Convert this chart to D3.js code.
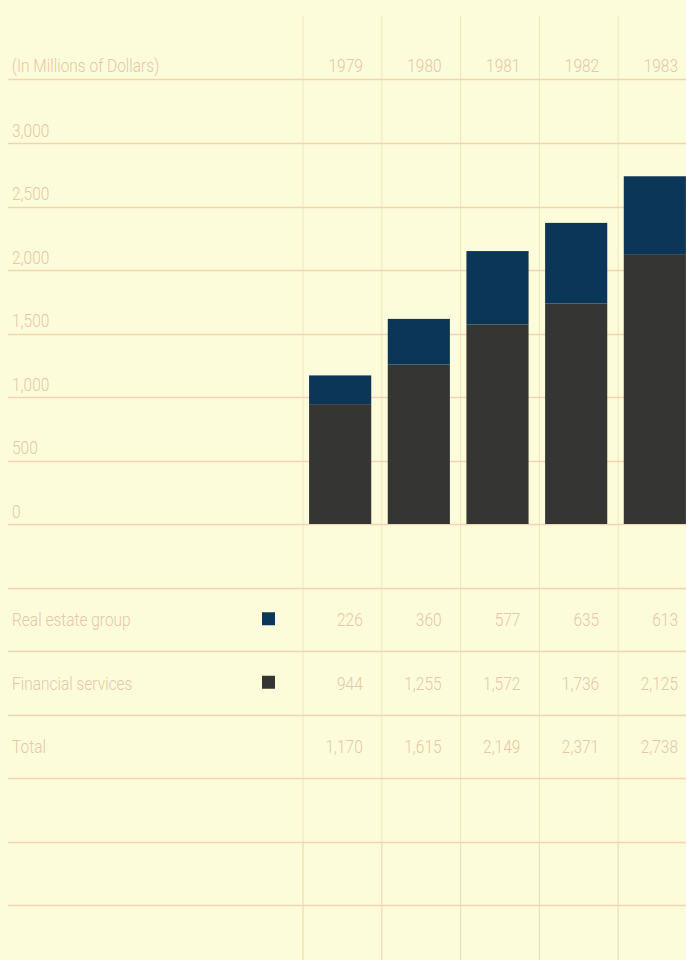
<!DOCTYPE html>
<html>
<head>
<meta charset="utf-8">
<script src="https://cdn.jsdelivr.net/npm/d3@7"></script>
<style>
  html, body { margin: 0; padding: 0; background: #fdfcda; }
  svg { display: block; }
  text { font-family: "Roboto", "Liberation Sans", sans-serif; font-weight: 300; }
</style>
</head>
<body>
<svg id="chart" width="686" height="960"></svg>
<script>
// ---- data ----
const years = ["1979", "1980", "1981", "1982", "1983"];
const realEstate = [226, 360, 577, 635, 613];
const financial = [944, 1255, 1572, 1736, 2125];
const totals = [1170, 1615, 2149, 2371, 2738];
const yTickValues = [0, 500, 1000, 1500, 2000, 2500, 3000];
const headerLabel = "(In Millions of Dollars)";
const seriesNames = ["Real estate group", "Financial services"];
const totalLabel = "Total";

// ---- styles ----
const W = 686, H = 960;
const bg = "#fdfcda";
const textColor = "#e6c7a8";
const gridColor = "#f1d3b6";
const vGridColor = "#f3e9c0";
const blue = "#0c3657";
const dark = "#353634";
const fs = 18;
const squeeze = 0.86;

const svg = d3.select("#chart");
svg.append("rect").attr("width", W).attr("height", H).attr("fill", bg);

// scales
const y = d3.scaleLinear().domain([0, 3000]).range([524, 143]);
const colX = d3.scaleBand().domain(years).range([303, 697]).padding(0);
const barX = d3.scaleBand().domain(years).range([302, 693]).paddingInner(0.21).paddingOuter(0.09);
const step = colX.step();

// vertical column lines
const colEdges = years.map(d => colX(d));
svg.append("g").selectAll("line").data(colEdges).join("line")
  .attr("x1", d => d).attr("x2", d => d)
  .attr("y1", 16).attr("y2", H)
  .attr("stroke", vGridColor).attr("stroke-width", 1.2);
svg.append("g").selectAll("line").data(colEdges).join("line")
  .attr("x1", d => d).attr("x2", d => d)
  .attr("y1", y(-2500)).attr("y2", H)
  .attr("stroke", "#efdcc0").attr("stroke-width", 1);

// horizontal grid lines (uniform rows from the value scale)
const gridVals = d3.range(-3000, 3501, 500);
svg.append("g").selectAll("line").data(gridVals).join("line")
  .attr("x1", 8).attr("x2", W)
  .attr("y1", d => Math.round(y(d)) + 0.5).attr("y2", d => Math.round(y(d)) + 0.5)
  .attr("stroke", gridColor).attr("stroke-width", 1.3);

// y-axis labels via d3 axis (text only)
const yAxis = d3.axisRight(y).tickValues(yTickValues).tickFormat(d3.format(",")).tickSize(0);
const ya = svg.append("g").attr("transform", "translate(12,0)").call(yAxis);
ya.select(".domain").remove();
ya.selectAll("text")
  .attr("x", 0).attr("dy", null).attr("y", -7)
  .attr("fill", textColor).attr("font-size", fs)
  .attr("font-family", null).attr("text-anchor", "start");

// header
svg.append("text").attr("x", 12).attr("y", Math.round(y(3500)) - 7)
  .attr("fill", textColor).attr("font-size", fs).text(headerLabel);

const xAxis = d3.axisTop(colX).tickSize(0);
const xa = svg.append("g").attr("transform", `translate(0,${Math.round(y(3500)) - 7})`).call(xAxis);
xa.select(".domain").remove();
xa.selectAll(".tick").attr("transform", d => `translate(${colX(d) + step - 19},0)`);
xa.selectAll("text")
  .attr("y", 0).attr("dy", null).attr("fill", textColor).attr("font-size", fs)
  .attr("font-family", null).attr("text-anchor", "end");

// stacked bars
const rows = years.map((yr, i) => ({ year: yr, fin: financial[i], re: realEstate[i] }));
const bars = svg.append("g");
bars.selectAll("rect.fin").data(rows).join("rect").attr("class", "fin")
  .attr("x", d => barX(d.year)).attr("width", barX.bandwidth())
  .attr("y", d => y(d.fin)).attr("height", d => y(0) - y(d.fin))
  .attr("fill", dark);
bars.selectAll("rect.re").data(rows).join("rect").attr("class", "re")
  .attr("x", d => barX(d.year)).attr("width", barX.bandwidth())
  .attr("y", d => y(d.fin + d.re)).attr("height", d => y(d.fin) - y(d.fin + d.re))
  .attr("fill", blue);

// table
const tableRows = [
  { name: seriesNames[0], vals: realEstate, swatch: blue },
  { name: seriesNames[1], vals: financial, swatch: dark },
  { name: totalLabel, vals: totals, swatch: null }
];
const fmt = d3.format(",");
tableRows.forEach((r, i) => {
  const top = y(-500 * (i + 1));
  const bot = y(-500 * (i + 2));
  const mid = (top + bot) / 2;
  const base = mid + 7;
  svg.append("text").attr("x", 12).attr("y", base)
    .attr("fill", textColor).attr("font-size", fs).text(r.name);
  if (r.swatch) {
    svg.append("rect").attr("x", 262).attr("y", mid - 7).attr("width", 13).attr("height", 13)
      .attr("fill", r.swatch);
  }
  svg.append("g").selectAll("text").data(years).join("text")
    .attr("x", d => colX(d) + step - 19).attr("y", base)
    .attr("text-anchor", "end").attr("fill", textColor).attr("font-size", fs)
    .text((d, j) => fmt(r.vals[j]));
});

// condense all text horizontally (the original uses a condensed face)
svg.selectAll("text").each(function () {
  const len = this.getComputedTextLength();
  if (len > 0) {
    d3.select(this).attr("textLength", len * squeeze).attr("lengthAdjust", "spacingAndGlyphs");
  }
});
</script>
</body>
</html>
